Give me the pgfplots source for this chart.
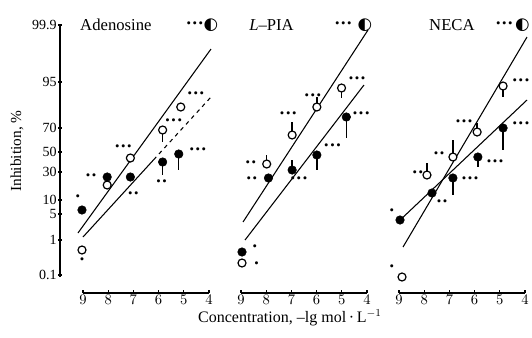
\documentclass[border=0pt]{standalone}
\usepackage{pgfplots}
\pgfplotsset{compat=1.18}
\usepackage{fontspec}
\setmainfont{Liberation Serif}
\newfontfamily\symfont{DejaVu Sans}
\newcommand\dA{•}
\newcommand\dB{•\kern1.2pt•}
\newcommand\dC{•\kern1.2pt•\kern1.2pt•}
\newcommand\hc{{\symfont ◐}}
\tikzset{st/.style={font=\fontsize{9.5}{9.5}\selectfont, inner sep=0pt},
  ttl/.style={font=\fontsize{12.5}{13}\selectfont, inner sep=0pt}}
\pgfplotsset{
  panel/.style={scale only axis, width=94.5pt, height=201pt, anchor=south west,
    xmin=4, xmax=9, x dir=reverse, ymin=-3.525, ymax=3.175,
    axis x line=bottom, axis y line=none,
    axis line style={-, line width=0.9pt},
    xtick={4,5,6,7,8,9}, xtick align=inside, major tick length=2.5pt,
    tick style={black, line width=0.8pt},
    xticklabel style={font=\fontsize{10.5}{10.5}\selectfont, inner sep=1.2pt},
    clip=false},
  opn/.style={only marks, mark=*, mark size=3pt,
    mark options={fill=white, draw=black, line width=0.9pt},
    error bars/.cd, y dir=both, y explicit, error mark=none,
    error bar style={line width=1pt, black}},
  fil/.style={only marks, mark=*, mark size=3.2pt,
    mark options={fill=black, draw=black},
    error bars/.cd, y dir=both, y explicit, error mark=none,
    error bar style={line width=1pt, black}},
  fit/.style={black, line width=0.8pt}
}
\begin{document}
\begin{tikzpicture}[x=0.75pt,y=0.75pt]
\path[use as bounding box] (0,0) rectangle (532,337);

% y axis of the first panel
\begin{axis}[scale only axis, width=1pt, height=189pt, anchor=south west,
  at={(45pt,45pt)}, xmin=0, xmax=1, ymin=-3.125, ymax=3.175,
  axis y line=left, axis x line=none, axis line style={-, line width=0.9pt},
  ytick={3.175,1.75,0.6,0,-0.5,-1.2,-1.55,-2.2,-3.075},
  yticklabels={99.9,95,70,50,30,10,5,1,0.1},
  tick style={black, line width=0.8pt}, major tick length=2.5pt,
  yticklabel style={font=\fontsize{10.5}{10.5}\selectfont, inner sep=1pt},
  ylabel={Inhibition, \%},
  ylabel style={at={(axis description cs:-32.25,0.5)}, anchor=center,
    font=\fontsize{11.5}{12}\selectfont}]
\addplot[draw=none] coordinates {(0,0)};
\end{axis}

% Adenosine
\begin{axis}[panel, at={(62.25pt,33pt)}]
\addplot[fit] coordinates {(9.2,-2.025) (3.92,2.575)};
\addplot[fit] coordinates {(9.0,-2.125) (6.2,-0.196)};
\addplot[fit, dashed] coordinates {(6.2,-0.196) (3.92,1.375)};
\addplot[opn] coordinates {(9.04,-2.45) (8.04,-0.825) (7.12,-0.15)
  (5.84,0.55) += (0,0) -= (0,0.3) (5.12,1.125)};
\addplot[fil] coordinates {(9.04,-1.45) (8.04,-0.625) (7.12,-0.625)
  (5.84,-0.25) += (0,0) -= (0,0.325) (5.2,-0.05) += (0,0) -= (0,0.4)};
\node[st] at (axis cs:9.2,-1.15) {\dA};
\node[st] at (axis cs:9.04,-2.72) {\dA};
\node[st] at (axis cs:8.68,-0.625) {\dB};
\node[st] at (axis cs:7.4,0.1) {\dC};
\node[st] at (axis cs:7.0,-1.075) {\dB};
\node[st] at (axis cs:5.4,0.75) {\dC};
\node[st] at (axis cs:5.88,-0.775) {\dB};
\node[st] at (axis cs:4.52,1.425) {\dC};
\node[st] at (axis cs:4.44,0.025) {\dC};
\node[ttl, anchor=west] at (axis cs:9.12,3.175) {Adenosine};
\node[st] at (axis cs:4.56,3.175) {\dC};
\node[ttl] at (axis cs:3.92,3.175) {\hc};
\end{axis}

% L-PIA
\begin{axis}[panel, at={(180.75pt,33pt)}]
\addplot[fit] coordinates {(8.92,-1.75) (3.96,3.05)};
\addplot[fit] coordinates {(8.84,-2.2) (4.12,1.675)};
\addplot[opn] coordinates {(8.96,-2.775) (7.98,-0.3) += (0,0.225) -= (0,0)
  (6.97,0.425) += (0,0.325) -= (0,0) (5.99,1.125) += (0,0.25) -= (0,0)
  (5.01,1.6) += (0,0) -= (0,0.25)};
\addplot[fil] coordinates {(8.96,-2.5) (7.91,-0.65)
  (6.97,-0.45) += (0,0.25) -= (0,0) (5.99,-0.075) += (0,0) -= (0,0.375)
  (4.82,0.875) += (0,0) -= (0,0.525)};
\node[st] at (axis cs:8.45,-2.4) {\dA};
\node[st] at (axis cs:8.38,-2.825) {\dA};
\node[st] at (axis cs:8.57,-0.7) {\dB};
\node[st] at (axis cs:8.61,-0.3) {\dB};
\node[st] at (axis cs:6.7,-0.7) {\dC};
\node[st] at (axis cs:7.125,0.925) {\dC};
\node[st] at (axis cs:5.37,0.125) {\dC};
\node[st] at (axis cs:6.15,1.375) {\dC};
\node[st] at (axis cs:4.23,0.925) {\dC};
\node[st] at (axis cs:4.39,1.8) {\dC};
\node[ttl] at (axis cs:7.79,3.175) {\textit{L}–PIA};
\node[st] at (axis cs:4.94,3.175) {\dC};
\node[ttl] at (axis cs:4.08,3.175) {\hc};
\end{axis}

% NECA
\begin{axis}[panel, at={(299.25pt,33pt)}]
\addplot[fit] coordinates {(8.84,-2.375) (3.92,2.875)};
\addplot[fit] coordinates {(9.04,-1.75) (3.92,1.3)};
\addplot[opn] coordinates {(8.88,-3.125) (7.89,-0.575) += (0,0.3) -= (0,0)
  (6.86,-0.125) += (0,0.425) -= (0,0) (5.9,0.5) += (0,0.225) -= (0,0)
  (4.87,1.65) += (0,0) -= (0,0.275)};
\addplot[fil] coordinates {(8.96,-1.7) (7.69,-1.025)
  (6.86,-0.65) += (0,0) -= (0,0.425) (5.87,-0.125) += (0,0) -= (0,0.25)
  (4.87,0.6) += (0,0) -= (0,0.55)};
\node[st] at (axis cs:9.28,-2.9) {\dA};
\node[st] at (axis cs:9.28,-1.5) {\dA};
\node[st] at (axis cs:7.29,-1.275) {\dB};
\node[st] at (axis cs:8.25,-0.55) {\dB};
\node[st] at (axis cs:6.18,-0.7) {\dC};
\node[st] at (axis cs:7.41,-0.075) {\dB};
\node[st] at (axis cs:5.19,-0.275) {\dC};
\node[st] at (axis cs:6.42,0.725) {\dC};
\node[st] at (axis cs:4.16,0.675) {\dC};
\node[st] at (axis cs:4.16,1.75) {\dC};
\node[ttl] at (axis cs:6.9,3.175) {NECA};
\node[st] at (axis cs:4.82,3.175) {\dC};
\node[ttl] at (axis cs:4.1,3.175) {\hc};
\end{axis}

\node[font=\fontsize{12}{12}\selectfont] at (290,19)
  {Concentration, –lg mol\,·\,L$^{-1}$};
\end{tikzpicture}
\end{document}
